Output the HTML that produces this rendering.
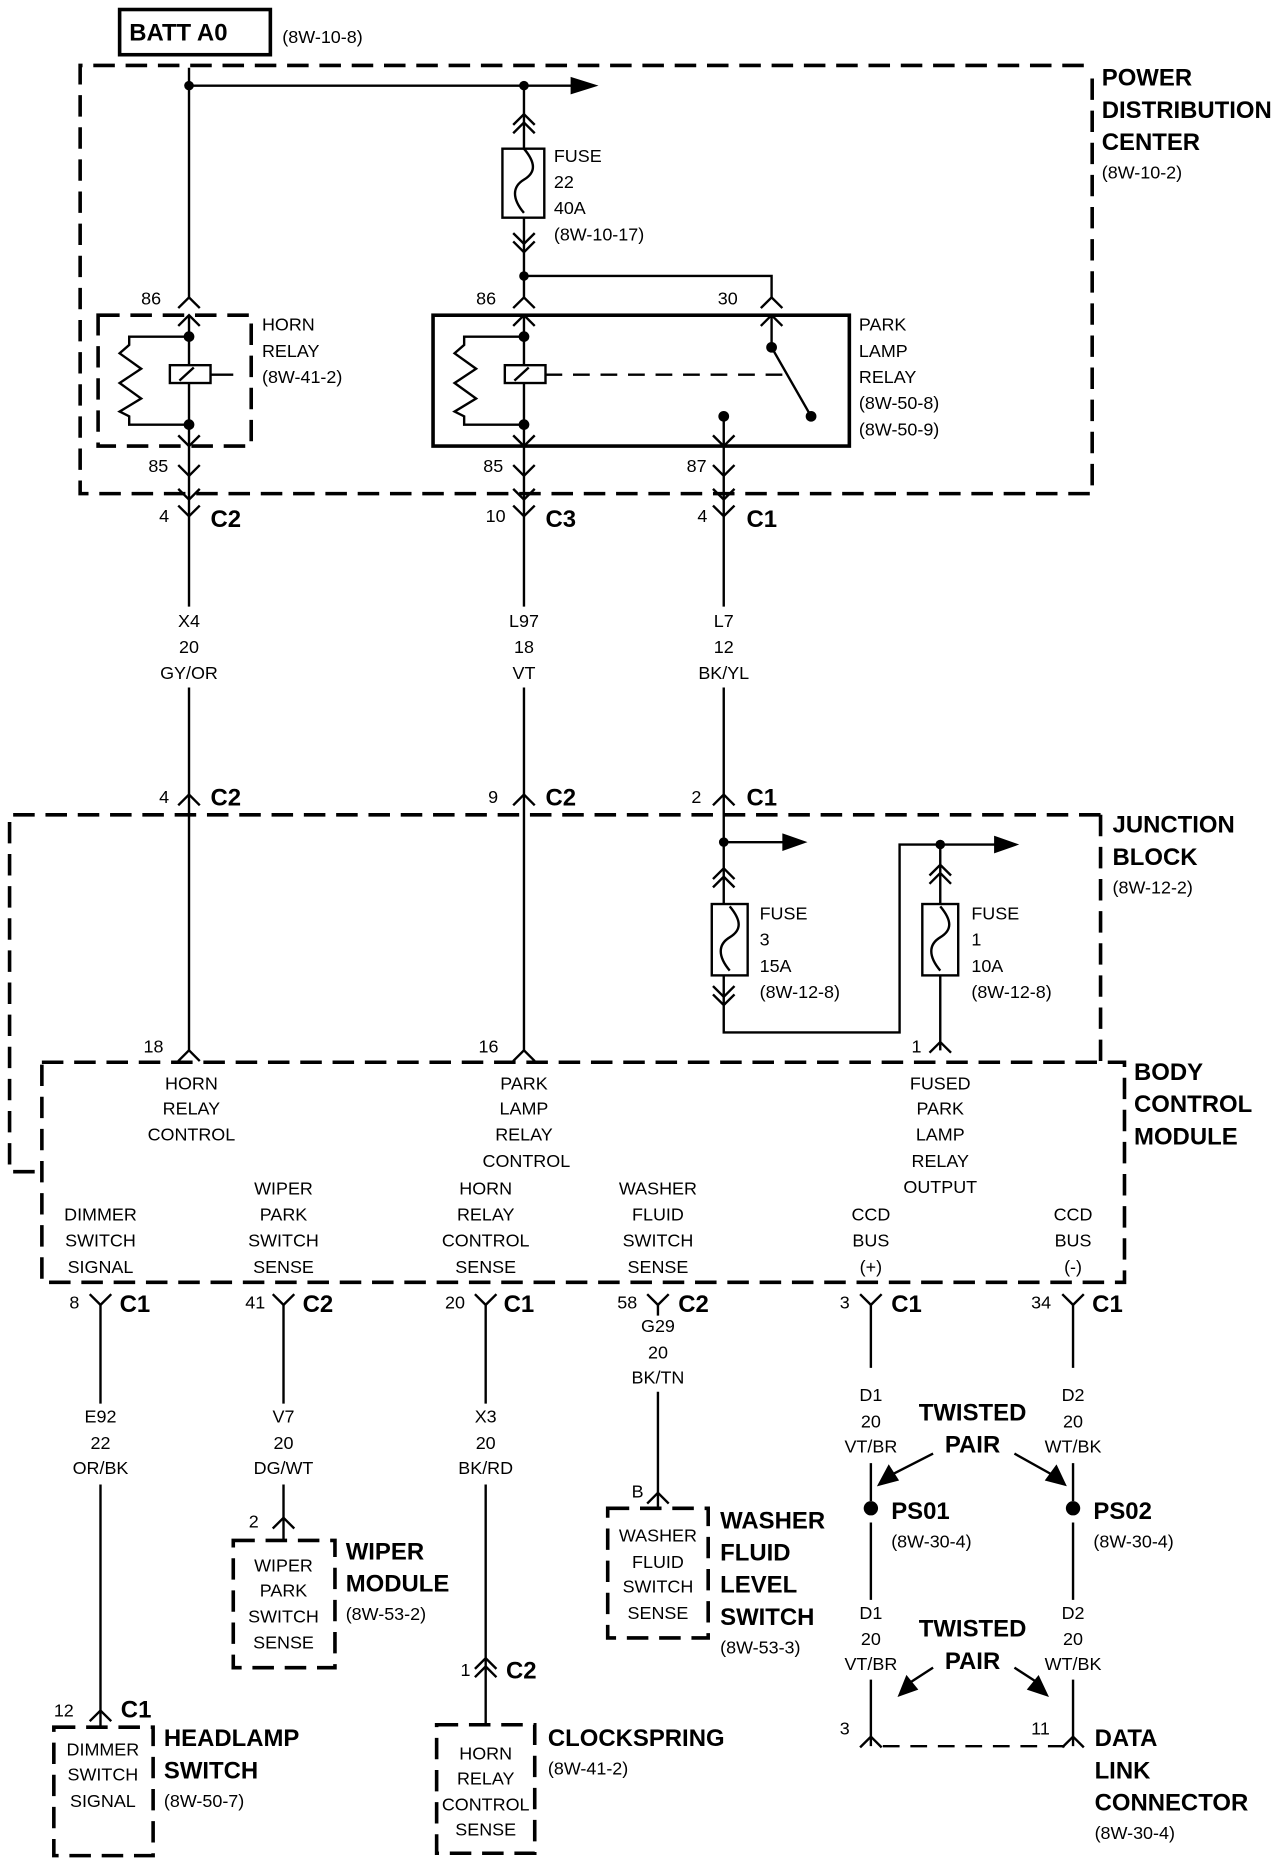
<!DOCTYPE html>
<html><head><meta charset="utf-8"><style>
html,body{margin:0;padding:0;background:#fff;}
svg{display:block;}
text{font-family:"Liberation Sans Narrow","Liberation Sans",sans-serif;font-size:15px;fill:#000;}
.b{font-weight:bold;font-size:20px;}
.c{text-anchor:middle;}
</style></head><body>
<svg width="1280" height="1858" viewBox="0 0 1070 1562" preserveAspectRatio="none" xmlns="http://www.w3.org/2000/svg">
<defs>
<path id="up" d="M-9,9 L0,0 L9,9" fill="none" stroke="#000" stroke-width="2"/>
<path id="dn" d="M-9,-9 L0,0 L9,-9" fill="none" stroke="#000" stroke-width="2"/>
<path id="fuse" d="M0,-6 C10,6 10,14 0,20 C-10,26 -10,36 0,48" fill="none" stroke="#000" stroke-width="2"/>
</defs>
<g stroke="#000" fill="none" stroke-width="2">
<!-- BATT -->
<rect x="100" y="8" width="126" height="38" stroke-width="3"/>
<!-- PDC dashed -->
<g stroke-width="3" stroke-dasharray="18,9">
<path d="M913,66 L913,415 L67,415 L67,55 L913,55"/>
<!-- JB -->
<path d="M920,685 L8,685 L8,985 L35,985"/>
<path d="M920,685 L920,893"/>
<!-- BCM -->
<path d="M35,893 L940,893 L940,1078 L35,1078 Z"/>
<!-- horn relay dashed -->
<rect x="82" y="265" width="128" height="110"/>
<!-- bottom boxes -->
<rect x="45" y="1452" width="83" height="108"/>
<rect x="195" y="1295" width="85" height="107"/>
<rect x="365" y="1450" width="82" height="108"/>
<rect x="508" y="1268" width="84" height="109"/>
</g>
<!-- park lamp relay box -->
<rect x="362" y="265" width="348" height="110" stroke-width="3"/>
<!-- top bus -->
<path d="M158,57 L158,250 M158,72 L478,72"/>
<path d="M478,66 L497,72 L478,78 Z" fill="#000"/>
<path d="M438,72 L438,125 M438,183 L438,250 M438,232 L645,232 L645,250"/>
<use href="#up" x="438" y="96"/><use href="#up" x="438" y="103"/>
<rect x="420" y="125" width="35" height="58"/>
<use href="#fuse" x="438" y="131"/>
<use href="#dn" x="438" y="205"/><use href="#dn" x="438" y="212"/>
<!-- pins 86 -->
<use href="#up" x="158" y="250"/><use href="#up" x="438" y="250"/><use href="#up" x="645" y="250"/>
<use href="#up" x="158" y="265"/><use href="#up" x="438" y="265"/><use href="#up" x="645" y="265"/>
<!-- horn relay internals -->
<path d="M158,265 L158,307 M158,322 L158,375 M158,283 L108,283 L108,290 L100,297 L118,310 L100,322 L118,335 L100,346 L108,350 L108,357 L158,357"/>
<rect x="142" y="307" width="34" height="15"/><path d="M150,320 L162,309 M176,315 L195,315"/>
<!-- park relay internals -->
<path d="M438,265 L438,307 M438,322 L438,375 M438,283 L388,283 L388,290 L380,297 L398,310 L380,322 L398,335 L380,346 L388,350 L388,357 L438,357"/>
<rect x="422" y="307" width="34" height="15"/><path d="M430,320 L442,309"/>
<path d="M456,315 L655,315" stroke-dasharray="14,9"/>
<path d="M645,265 L645,292 L678,350 M605,350 L605,375"/>
<!-- 85/87 -->
<use href="#dn" x="158" y="375"/><use href="#dn" x="438" y="375"/><use href="#dn" x="605" y="375"/>
<use href="#dn" x="158" y="400"/><use href="#dn" x="438" y="400"/><use href="#dn" x="605" y="400"/>
<use href="#dn" x="158" y="420"/><use href="#dn" x="438" y="420"/><use href="#dn" x="605" y="420"/>
<use href="#dn" x="158" y="434"/><use href="#dn" x="438" y="434"/><use href="#dn" x="605" y="434"/>
<path d="M158,375 L158,510 M438,375 L438,510 M605,375 L605,510 M158,578 L158,668 M438,578 L438,668 M605,578 L605,668"/>
<use href="#up" x="158" y="668"/><use href="#up" x="438" y="668"/><use href="#up" x="605" y="668"/>
<path d="M158,668 L158,883 M438,668 L438,883"/>
<use href="#up" x="158" y="883"/><use href="#up" x="438" y="883"/>
<!-- JB fuses -->
<path d="M605,668 L605,760 M605,708 L655,708 M605,820 L605,868 L752,868 L752,710 L832,710 M786,710 L786,760 M786,820 L786,883"/>
<path d="M655,702 L672,708 L655,714 Z M832,704 L849,710 L832,716 Z" fill="#000"/>
<use href="#up" x="605" y="730"/><use href="#up" x="605" y="737"/>
<rect x="595" y="760" width="30" height="60"/><use href="#fuse" x="610" y="768"/>
<use href="#dn" x="605" y="838"/><use href="#dn" x="605" y="845"/>
<use href="#up" x="786" y="727"/><use href="#up" x="786" y="734"/>
<rect x="771" y="760" width="30" height="60"/><use href="#fuse" x="786" y="768"/>
<use href="#up" x="786" y="876"/>
<!-- bottom connectors -->
<use href="#dn" x="84" y="1097"/><use href="#dn" x="237" y="1097"/><use href="#dn" x="406" y="1097"/><use href="#dn" x="550" y="1097"/><use href="#dn" x="728" y="1097"/><use href="#dn" x="897" y="1097"/>
<path d="M84,1097 L84,1180 M84,1248 L84,1452 M237,1097 L237,1180 M237,1248 L237,1295 M406,1097 L406,1180 M406,1248 L406,1450 M550,1097 L550,1106 M550,1170 L550,1268 M728,1097 L728,1150 M728,1230 L728,1262 M728,1280 L728,1345 M728,1412 L728,1468 M897,1097 L897,1150 M897,1230 L897,1262 M897,1280 L897,1345 M897,1412 L897,1468"/>
<use href="#up" x="84" y="1438"/><use href="#up" x="237" y="1276"/><use href="#up" x="550" y="1255"/>
<use href="#up" x="406" y="1394"/><use href="#up" x="406" y="1401"/>
<use href="#up" x="728" y="1460"/><use href="#up" x="897" y="1460"/>
<path d="M738,1468 L890,1468" stroke-dasharray="14,9"/>
<!-- twisted pair arrows -->
<path d="M780,1222 L745,1240 M848,1222 L880,1240 M780,1402 L760,1415 M848,1402 L868,1415"/>
<path d="M735,1248 L743,1233 L750,1244 Z M890,1248 L875,1244 L883,1233 Z M752,1425 L758,1410 L766,1420 Z M875,1425 L860,1420 L868,1410 Z" fill="#000"/>
</g>
<g fill="#000">
<circle cx="158" cy="72" r="4"/><circle cx="438" cy="72" r="4"/><circle cx="438" cy="232" r="4"/>
<circle cx="158" cy="283" r="4.5"/><circle cx="158" cy="357" r="4.5"/><circle cx="438" cy="283" r="4.5"/><circle cx="438" cy="357" r="4.5"/>
<circle cx="645" cy="292" r="4.5"/><circle cx="678" cy="350" r="4.5"/><circle cx="605" cy="350" r="4.5"/>
<circle cx="605" cy="708" r="4"/><circle cx="786" cy="710" r="4"/>
<circle cx="728" cy="1268" r="6"/><circle cx="897" cy="1268" r="6"/>
</g>
<text x="108" y="34" class="b">BATT A0</text><text x="236" y="36">(8W-10-8)</text>
<text class="b" x="921" y="72">POWER</text><text class="b" x="921" y="99">DISTRIBUTION</text><text class="b" x="921" y="126">CENTER</text><text x="921" y="150">(8W-10-2)</text>
<text x="463" y="136">FUSE</text><text x="463" y="158">22</text><text x="463" y="180">40A</text><text x="463" y="202">(8W-10-17)</text>
<text x="118" y="256">86</text><text x="398" y="256">86</text><text x="600" y="256">30</text>
<text x="219" y="278">HORN</text><text x="219" y="300">RELAY</text><text x="219" y="322">(8W-41-2)</text>
<text x="718" y="278">PARK</text><text x="718" y="300">LAMP</text><text x="718" y="322">RELAY</text><text x="718" y="344">(8W-50-8)</text><text x="718" y="366">(8W-50-9)</text>
<text x="124" y="397">85</text><text x="404" y="397">85</text><text x="574" y="397">87</text>
<text x="133" y="439">4</text><text class="b" x="176" y="443">C2</text>
<text x="406" y="439">10</text><text class="b" x="456" y="443">C3</text>
<text x="583" y="439">4</text><text class="b" x="624" y="443">C1</text>
<text class="c" x="158" y="527">X4</text><text class="c" x="158" y="549">20</text><text class="c" x="158" y="571">GY/OR</text>
<text class="c" x="438" y="527">L97</text><text class="c" x="438" y="549">18</text><text class="c" x="438" y="571">VT</text>
<text class="c" x="605" y="527">L7</text><text class="c" x="605" y="549">12</text><text class="c" x="605" y="571">BK/YL</text>
<text x="133" y="675">4</text><text class="b" x="176" y="677">C2</text>
<text x="408" y="675">9</text><text class="b" x="456" y="677">C2</text>
<text x="578" y="675">2</text><text class="b" x="624" y="677">C1</text>
<text class="b" x="930" y="700">JUNCTION</text><text class="b" x="930" y="727">BLOCK</text><text x="930" y="751">(8W-12-2)</text>
<text x="635" y="773">FUSE</text><text x="635" y="795">3</text><text x="635" y="817">15A</text><text x="635" y="839">(8W-12-8)</text>
<text x="812" y="773">FUSE</text><text x="812" y="795">1</text><text x="812" y="817">10A</text><text x="812" y="839">(8W-12-8)</text>
<text x="120" y="885">18</text><text x="400" y="885">16</text><text x="762" y="885">1</text>
<text class="b" x="948" y="908">BODY</text><text class="b" x="948" y="935">CONTROL</text><text class="b" x="948" y="962">MODULE</text>
<text class="c" x="160" y="916">HORN</text><text class="c" x="160" y="937">RELAY</text><text class="c" x="160" y="959">CONTROL</text>
<text class="c" x="438" y="916">PARK</text><text class="c" x="438" y="937">LAMP</text><text class="c" x="438" y="959">RELAY</text><text class="c" x="440" y="981">CONTROL</text>
<text class="c" x="786" y="916">FUSED</text><text class="c" x="786" y="937">PARK</text><text class="c" x="786" y="959">LAMP</text><text class="c" x="786" y="981">RELAY</text><text class="c" x="786" y="1003">OUTPUT</text>
<text class="c" x="84" y="1026">DIMMER</text><text class="c" x="84" y="1048">SWITCH</text><text class="c" x="84" y="1070">SIGNAL</text>
<text class="c" x="237" y="1004">WIPER</text><text class="c" x="237" y="1026">PARK</text><text class="c" x="237" y="1048">SWITCH</text><text class="c" x="237" y="1070">SENSE</text>
<text class="c" x="406" y="1004">HORN</text><text class="c" x="406" y="1026">RELAY</text><text class="c" x="406" y="1048">CONTROL</text><text class="c" x="406" y="1070">SENSE</text>
<text class="c" x="550" y="1004">WASHER</text><text class="c" x="550" y="1026">FLUID</text><text class="c" x="550" y="1048">SWITCH</text><text class="c" x="550" y="1070">SENSE</text>
<text class="c" x="728" y="1026">CCD</text><text class="c" x="728" y="1048">BUS</text><text class="c" x="728" y="1070">(+)</text>
<text class="c" x="897" y="1026">CCD</text><text class="c" x="897" y="1048">BUS</text><text class="c" x="897" y="1070">(-)</text>
<text x="58" y="1100">8</text><text class="b" x="100" y="1103">C1</text>
<text x="205" y="1100">41</text><text class="b" x="253" y="1103">C2</text>
<text x="372" y="1100">20</text><text class="b" x="421" y="1103">C1</text>
<text x="516" y="1100">58</text><text class="b" x="567" y="1103">C2</text>
<text x="702" y="1100">3</text><text class="b" x="745" y="1103">C1</text>
<text x="862" y="1100">34</text><text class="b" x="913" y="1103">C1</text>
<text class="c" x="550" y="1120">G29</text><text class="c" x="550" y="1142">20</text><text class="c" x="550" y="1163">BK/TN</text>
<text class="c" x="84" y="1196">E92</text><text class="c" x="84" y="1218">22</text><text class="c" x="84" y="1239">OR/BK</text>
<text class="c" x="237" y="1196">V7</text><text class="c" x="237" y="1218">20</text><text class="c" x="237" y="1239">DG/WT</text>
<text class="c" x="406" y="1196">X3</text><text class="c" x="406" y="1218">20</text><text class="c" x="406" y="1239">BK/RD</text>
<text class="c" x="728" y="1178">D1</text><text class="c" x="728" y="1200">20</text><text class="c" x="728" y="1221">VT/BR</text>
<text class="c" x="897" y="1178">D2</text><text class="c" x="897" y="1200">20</text><text class="c" x="897" y="1221">WT/BK</text>
<text class="b c" x="813" y="1194">TWISTED</text><text class="b c" x="813" y="1221">PAIR</text>
<text class="b" x="745" y="1277">PS01</text><text x="745" y="1301">(8W-30-4)</text>
<text class="b" x="914" y="1277">PS02</text><text x="914" y="1301">(8W-30-4)</text>
<text class="c" x="728" y="1361">D1</text><text class="c" x="728" y="1383">20</text><text class="c" x="728" y="1404">VT/BR</text>
<text class="c" x="897" y="1361">D2</text><text class="c" x="897" y="1383">20</text><text class="c" x="897" y="1404">WT/BK</text>
<text class="b c" x="813" y="1376">TWISTED</text><text class="b c" x="813" y="1403">PAIR</text>
<text x="702" y="1458">3</text><text x="862" y="1458">11</text>
<text class="b" x="915" y="1468">DATA</text><text class="b" x="915" y="1495">LINK</text><text class="b" x="915" y="1522">CONNECTOR</text><text x="915" y="1546">(8W-30-4)</text>
<text x="528" y="1259">B</text>
<text class="c" x="550" y="1296">WASHER</text><text class="c" x="550" y="1318">FLUID</text><text class="c" x="550" y="1339">SWITCH</text><text class="c" x="550" y="1361">SENSE</text>
<text class="b" x="602" y="1285">WASHER</text><text class="b" x="602" y="1312">FLUID</text><text class="b" x="602" y="1339">LEVEL</text><text class="b" x="602" y="1366">SWITCH</text><text x="602" y="1390">(8W-53-3)</text>
<text x="208" y="1284">2</text>
<text class="c" x="237" y="1321">WIPER</text><text class="c" x="237" y="1342">PARK</text><text class="c" x="237" y="1364">SWITCH</text><text class="c" x="237" y="1386">SENSE</text>
<text class="b" x="289" y="1311">WIPER</text><text class="b" x="289" y="1338">MODULE</text><text x="289" y="1362">(8W-53-2)</text>
<text x="385" y="1409">1</text><text class="b" x="423" y="1411">C2</text>
<text class="c" x="406" y="1479">HORN</text><text class="c" x="406" y="1500">RELAY</text><text class="c" x="406" y="1522">CONTROL</text><text class="c" x="406" y="1543">SENSE</text>
<text class="b" x="458" y="1468">CLOCKSPRING</text><text x="458" y="1492">(8W-41-2)</text>
<text x="45" y="1443">12</text><text class="b" x="101" y="1444">C1</text>
<text class="c" x="86" y="1476">DIMMER</text><text class="c" x="86" y="1497">SWITCH</text><text class="c" x="86" y="1519">SIGNAL</text>
<text class="b" x="137" y="1468">HEADLAMP</text><text class="b" x="137" y="1495">SWITCH</text><text x="137" y="1519">(8W-50-7)</text>
</svg>
</body></html>
